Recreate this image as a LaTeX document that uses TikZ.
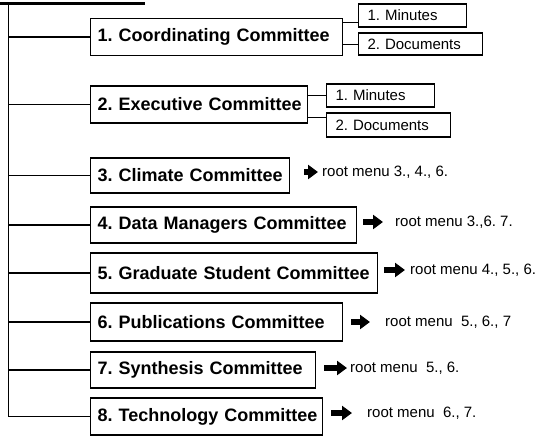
\documentclass[tikz,border=0pt]{standalone}
\usepackage{fontspec}
\setmainfont{Liberation Sans}
\usetikzlibrary{arrows.meta,positioning}
\frenchspacing

\begin{document}
\begin{tikzpicture}[
    x=1pt, y=-1pt,
    every node/.style={font=\fontsize{15}{17}\selectfont},
    committee/.style={draw, line width=1.3pt, anchor=west, text width=#1, minimum height=37pt,
        inner xsep=7pt, inner ysep=0pt, align=left, font=\fontsize{18}{20}\selectfont\bfseries,
        execute at begin node={\hbox\bgroup}, execute at end node={\egroup}},
    record/.style={draw, line width=1.1pt, anchor=west, text width=#1, minimum height=23pt,
        inner xsep=9pt, inner ysep=0pt, align=left},
    menu/.style={anchor=west, inner sep=0pt},
    branch/.style={line width=1.8pt},
    link/.style={line width=1pt},
    jump/.style={-{Triangle[length=10pt,width=14pt]}, line width=5.5pt}
]
\useasboundingbox (0,0) rectangle (547,439);

% Tronc
\coordinate (corner) at (0,3);
\coordinate (tick) at (143,3);
\coordinate (trunk) at (8.5,3);
\draw[line width=3pt] (corner) -- (tick) -- ++(0,2);

% Comités
\node[committee=238pt] (c1) at (90,37) {1. Coordinating Committee};
\node[committee=203pt] (c2) at (90,104.5) {2. Executive Committee};
\node[committee=185pt, minimum height=35pt] (c3) at (90,175.5) {3. Climate Committee};
\node[committee=252pt, minimum height=36pt] (c4) at (90,225) {4. Data Managers Committee};
\node[committee=273pt, minimum height=40pt] (c5) at (90,273) {5. Graduate Student Committee};
\node[committee=238pt, minimum height=38pt] (c6) at (90,322) {6. Publications Committee};
\node[committee=211pt, minimum height=36pt] (c7) at (90,370) {7. Synthesis Committee};
\node[committee=218pt] (c8) at (90,416.5) {8. Technology Committee};

% Branches
\draw[branch] (trunk) |- (c8.west);
\foreach \i in {1,...,7}
    \draw[branch] (trunk |- c\i.west) -- (c\i.west);

% Minutes et documents
\node[record=90pt] (m1) at (358,15.5) {1. Minutes};
\node[record=106pt, minimum height=22pt] (d1) at (358,44) {2. Documents};
\node[record=90pt] (m2) at (326,95.5) {1. Minutes};
\node[record=106pt, minimum height=24pt] (d2) at (326,125) {2. Documents};

\coordinate (m1in) at ([yshift=-6.5pt]m1.west);
\coordinate (d2in) at ([yshift=8pt]d2.west);
\draw[link] (m1in -| c1.east) -- (m1in);
\draw[link] (d1.west -| c1.east) -- (d1.west);
\draw[link] (m2.west -| c2.east) -- (m2.west);
\draw[link] (d2in -| c2.east) -- (d2in);

% Renvois au menu
\node[menu] (r3) at (322,172) {root menu 3., 4., 6.};
\node[menu] (r4) at (395,222) {root menu 3.,6. 7.};
\node[menu] (r5) at (410,270) {root menu 4., 5., 6.};
\node[menu] (r6) at (385,322) {root menu\ \ 5., 6., 7};
\node[menu] (r7) at (350,368) {root menu\ \ 5., 6.};
\node[menu] (r8) at (367,413) {root menu\ \ 6., 7.};

\draw[jump, shorten <=14pt, shorten >=4pt] (c3.east |- r3.west) -- (r3.west);
\draw[jump, shorten <=6pt, shorten >=12pt] (c4.east |- r4.west) -- (r4.west);
\draw[jump, shorten <=6pt, shorten >=5pt] (c5.east |- r5.west) -- (r5.west);
\draw[jump, shorten <=8pt, shorten >=15pt] (c6.east |- r6.west) -- (r6.west);
\draw[jump, shorten <=8pt, shorten >=3pt] (c7.east |- r7.west) -- (r7.west);
\draw[jump, shorten <=8pt, shorten >=15pt] (c8.east |- r8.west) -- (r8.west);

\end{tikzpicture}
\end{document}
